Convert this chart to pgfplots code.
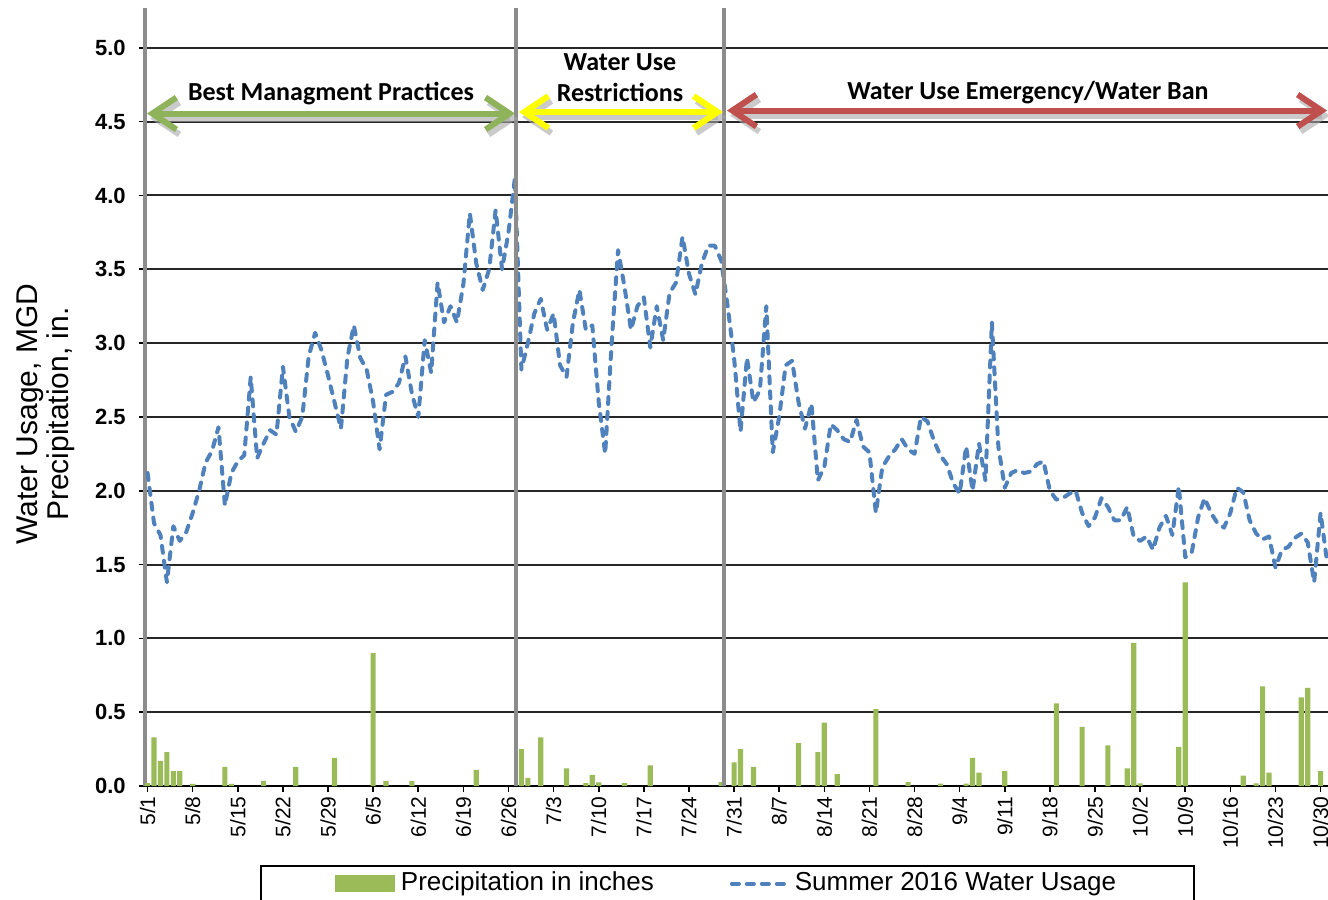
\documentclass[border=0pt]{standalone}
\usepackage{pgfplots}
\pgfplotsset{compat=1.18}
\usepackage{pgfplotstable}
\usepackage{fontspec}
\setmainfont{Liberation Sans}
\newfontfamily\calibri{Carlito}
\usetikzlibrary{arrows.meta}
\definecolor{pgreen}{HTML}{9BBB59}
\definecolor{pblue}{HTML}{4F81BD}
\definecolor{agreen}{HTML}{8FB35A}
\definecolor{ayellow}{HTML}{FFFF00}
\definecolor{ared}{HTML}{C0504D}

\pgfplotstableread{
day usage
0 2.12
1 1.78
2 1.70
3 1.38
4 1.76
5 1.66
6 1.72
7 1.85
8 2.00
9 2.19
10 2.27
11 2.43
12 1.90
13 2.12
14 2.20
15 2.24
16 2.77
17 2.22
18 2.32
19 2.41
20 2.38
21 2.84
22 2.50
23 2.40
24 2.50
25 2.91
26 3.07
27 2.95
28 2.78
29 2.60
30 2.42
31 2.90
32 3.12
33 2.90
34 2.82
35 2.60
36 2.28
37 2.65
38 2.67
39 2.73
40 2.91
41 2.66
42 2.50
43 3.02
44 2.80
45 3.41
46 3.14
47 3.25
48 3.14
49 3.40
50 3.88
51 3.54
52 3.36
53 3.50
54 3.90
55 3.50
56 3.75
57 4.12
58 2.82
59 3.00
60 3.20
61 3.30
62 3.09
63 3.20
64 2.85
65 2.77
66 3.14
67 3.36
68 3.09
69 3.12
70 2.60
71 2.25
72 3.00
73 3.63
74 3.38
75 3.09
76 3.25
77 3.31
78 2.97
79 3.25
80 3.02
81 3.34
82 3.41
83 3.72
84 3.47
85 3.33
86 3.54
87 3.66
88 3.66
89 3.56
90 3.25
91 2.90
92 2.40
93 2.90
94 2.60
95 2.68
96 3.25
97 2.26
98 2.50
99 2.85
100 2.88
101 2.60
102 2.42
103 2.59
104 2.07
105 2.16
106 2.45
107 2.41
108 2.35
109 2.33
110 2.48
111 2.30
112 2.26
113 1.85
114 2.16
115 2.23
116 2.28
117 2.35
118 2.28
119 2.25
120 2.50
121 2.47
122 2.34
123 2.24
124 2.18
125 2.05
126 1.98
127 2.30
128 2.00
129 2.32
130 2.07
131 3.14
132 2.30
133 2.02
134 2.12
135 2.14
136 2.12
137 2.13
138 2.18
139 2.20
140 2.00
141 1.94
142 1.95
143 1.98
144 2.00
145 1.85
146 1.76
147 1.82
148 1.95
149 1.89
150 1.80
151 1.80
152 1.89
153 1.69
154 1.66
155 1.69
156 1.60
157 1.75
158 1.83
159 1.70
160 2.03
161 1.55
162 1.58
163 1.82
164 1.95
165 1.85
166 1.78
167 1.75
168 1.85
169 2.02
170 1.99
171 1.80
172 1.71
173 1.67
174 1.69
175 1.48
176 1.60
177 1.62
178 1.68
179 1.71
180 1.65
181 1.38
182 1.85
183 1.52
}\usagetable

\pgfplotstableread{
day precip
0 0.02
1 0.33
2 0.17
3 0.23
4 0.10
5 0.10
7 0.015
12 0.13
13 0.015
18 0.035
23 0.13
29 0.19
35 0.90
37 0.035
41 0.035
51 0.11
58 0.25
59 0.055
61 0.33
65 0.12
68 0.02
69 0.075
70 0.025
74 0.02
78 0.14
89 0.027
91 0.16
92 0.25
94 0.13
101 0.29
104 0.23
105 0.43
107 0.08
113 0.52
118 0.027
123 0.016
127 0.016
128 0.19
129 0.09
133 0.10
141 0.56
145 0.40
149 0.275
152 0.12
153 0.97
154 0.018
160 0.265
161 1.38
170 0.07
172 0.018
173 0.675
174 0.09
179 0.60
180 0.665
182 0.10
}\preciptable

\tikzset{
  barb/.style={{Straight Barb[length=12bp,width=16bp]}-{Straight Barb[length=12bp,width=16bp]}, line width=3bp},
  anntext/.style={font=\calibri\bfseries\fontsize{13bp}{15.5bp}\selectfont, align=center, text=black}
}

\begin{document}
\begin{tikzpicture}
\begin{axis}[
  name=ax, at={(0,0)}, anchor=south west,
  scale only axis, width=591.5bp, height=389bp,
  xmin=-0.4, xmax=183.15, ymin=0, ymax=5.27,
  clip=false,
  axis x line*=bottom, axis y line*=left,
  x axis line style={black, line width=1bp, -},
  y axis line style={black!45, line width=1.6bp, -},
  xtick={0,7,...,182},
  xticklabels={5/1,5/8,5/15,5/22,5/29,6/5,6/12,6/19,6/26,7/3,7/10,7/17,7/24,7/31,8/7,8/14,8/21,8/28,9/4,9/11,9/18,9/25,10/2,10/9,10/16,10/23,10/30},
  xticklabel style={rotate=90, anchor=east, font=\fontsize{10.5bp}{12bp}\selectfont, inner sep=2bp},
  ytick={0,0.5,...,5.0},
  /pgf/number format/assume math mode=true,
  yticklabel style={/pgf/number format/.cd, fixed, fixed zerofill, precision=1, /tikz/.cd, font=\bfseries\fontsize{11bp}{13bp}\selectfont, inner sep=2bp, xshift=-4.5bp},
  tick align=outside, major tick length=3bp,
  tick style={black, line width=0.8bp},
  ymajorgrids, grid style={black!85, line width=1bp},
  legend columns=2,
  legend cell align=left,
  legend style={at={(axis description cs:0.0972,-0.1015)}, anchor=north west,
    draw=black, line width=1bp, inner xsep=37bp, inner ysep=1bp,
    font=\fontsize{13bp}{15bp}\selectfont,
    nodes={text depth=12bp},
    /tikz/every odd column/.append style={column sep=1bp},
    /tikz/every even column/.append style={column sep=36bp}},
]
\addplot[ybar, bar width=0.8, fill=pgreen, draw=none,
  legend image code/.code={\fill[pgreen] (0bp,0.55bp) rectangle (30bp,9.05bp);}]
  table[x=day, y=precip] {\preciptable};
\addlegendentry{Precipitation in inches}
\addplot[pblue, line width=2bp, dash pattern=on 3.5bp off 4bp, line cap=round, line join=round,
  legend image code/.code={\draw[pblue, line width=2bp, dash pattern=on 3.5bp off 4bp, line cap=round] (1bp,4.8bp) -- (28.5bp,4.8bp);}]
  table[x=day, y=usage] {\usagetable};
\addlegendentry{Summer 2016 Water Usage}

% phase boundaries
\draw[black!45, line width=1.6bp] (axis cs:57.16,0) -- (axis cs:57.16,5.27);
\draw[black!45, line width=1.6bp] (axis cs:89.44,0) -- (axis cs:89.44,5.27);

% arrow shadows
\begin{scope}[shift={(1.5bp,-2.5bp)}]
\draw[barb, black!35, opacity=0.6] (axis cs:-0.09,4.555) -- (axis cs:57.0,4.555);
\draw[barb, black!35, opacity=0.6] (axis cs:57.63,4.565) -- (axis cs:89.28,4.565);
\draw[barb, black!35, opacity=0.6] (axis cs:89.9,4.575) -- (axis cs:183.0,4.575);
\end{scope}
% arrows
\draw[barb, agreen] (axis cs:-0.09,4.555) -- (axis cs:57.0,4.555);
\draw[barb, ayellow] (axis cs:57.63,4.565) -- (axis cs:89.28,4.565);
\draw[barb, ared] (axis cs:89.9,4.575) -- (axis cs:183.0,4.575);

\node[anntext] at (axis cs:28.46,4.69) {Best Managment Practices};
\node[anntext] at (axis cs:73.3,4.795) {Water Use\\Restrictions};
\node[anntext] at (axis cs:136.6,4.70) {Water Use Emergency/Water Ban};
\end{axis}

\node[rotate=90, align=center, font=\fontsize{15bp}{15.5bp}\selectfont] at (-49.5bp,186bp) {Water Usage, MGD\\Precipitation, in.};

\pgfresetboundingbox
\path[use as bounding box] (-72.5bp,-57bp) rectangle (591.5bp,393bp);
\end{tikzpicture}
\end{document}
